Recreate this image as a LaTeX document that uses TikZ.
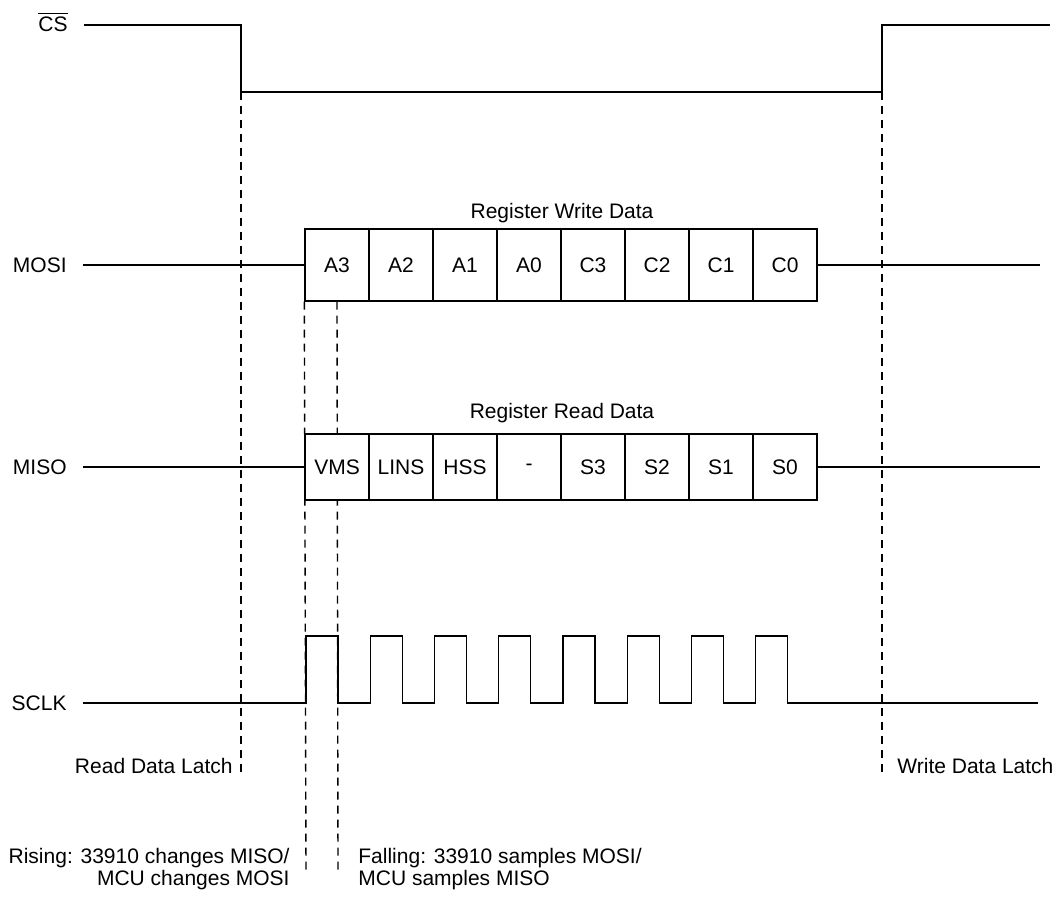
\documentclass[tikz,border=0pt]{standalone}
\usepackage{fontspec}
\setmainfont{Liberation Sans}
\usetikzlibrary{positioning}

\begin{document}
\begin{tikzpicture}[x=0.5pt,y=-0.5pt]
	\tikzset{line/.style={draw,line width=0.7pt}}
	\tikzset{latch/.style={line,dash pattern=on 4pt off 3pt}}
	\tikzset{sig/.style={anchor=east,inner sep=0pt}}
	\tikzset{cell/.style={line,fill=white,minimum width=32pt,inner sep=0pt}}
	\tikzset{note/.style={inner sep=0pt}}
	\fontsize{10.5}{11}\selectfont

	\useasboundingbox (0,0) rectangle (1059,919);

	% signal names
	\node[sig] (cs) at (68,22) {$\overline{\hbox{CS}}$};
	\node[sig] (mosi) at (67,265) {MOSI};
	\node[sig] (miso) at (67,467) {MISO};
	\node[sig] (sclk) at (67,703) {SCLK};

	% CS edges
	\coordinate (csfall) at (241,92);
	\coordinate (csrise) at (882,92);
	\coordinate (rdl) at (241,773);
	\coordinate (wdl) at (882,773);

	% clock edges of the first bit
	\coordinate (rise1) at (306,872);
	\coordinate (fall1) at (338,870);

	% latch lines
	\path[latch] (csfall) -- (rdl);
	\path[latch] (csrise) -- (wdl);

	% data cells
	\foreach \t [count=\i] in {A3,A2,A1,A0,C3,C2,C1,C0}
		\node[cell,minimum height=36pt] (w\i) at ({305+64*(\i-0.5)},265) {\t};
	\foreach \t [count=\i] in {VMS,LINS,HSS,-,S3,S2,S1,S0}
		\node[cell,minimum height=33pt] (r\i) at ({305+64*(\i-0.5)},467) {\t};

	\path[latch] (w1.south west) -- (rise1);
	\path[latch] (w1.south) -- (fall1);
	% cells again on top of the latch lines
	\foreach \t [count=\i] in {VMS,LINS,HSS,-,S3,S2,S1,S0}
		\node[cell,minimum height=33pt] at (r\i) {\t};

	\node[note] (wtitle) at (562,213) {Register Write Data};
	\node[note] (rtitle) at (562,413) {Register Read Data};

	% CS
	\draw[line] ([xshift=8pt]cs.east |- 0,25) -- (csfall |- 0,25) -- (csfall) -- (csrise) -- (csrise |- 0,25) -- (1050,25);

	% MOSI / MISO
	\draw[line] ([xshift=8pt]mosi.east) -- (w1.west);
	\draw[line] (w8.east) -- (w8.east -| 1040,0);
	\draw[line] ([xshift=8pt]miso.east) -- (r1.west);
	\draw[line] (r8.east) -- (r8.east -| 1040,0);

	% SCLK
	\draw[line] ([xshift=8pt]sclk.east) -- (306,703)
		\foreach \i in {1,...,8} { -- ++(0,-67) -- ++(32,0) -- ++(0,67) -- ++(32.25,0)} -- (1038,703);

	% notes
	\node[note,anchor=east] (rdtext) at (233,766) {Read Data Latch};
	\node[note,anchor=west] (wdtext) at (897,766) {Write Data Latch};
	\node[note,anchor=east,align=right] (risetext) at (290,869) {Rising: 33910 changes MISO/\\MCU changes MOSI};
	\node[note,anchor=west,align=left] (falltext) at (358,869) {Falling: 33910 samples MOSI/\\MCU samples MISO};
\end{tikzpicture}
\end{document}
